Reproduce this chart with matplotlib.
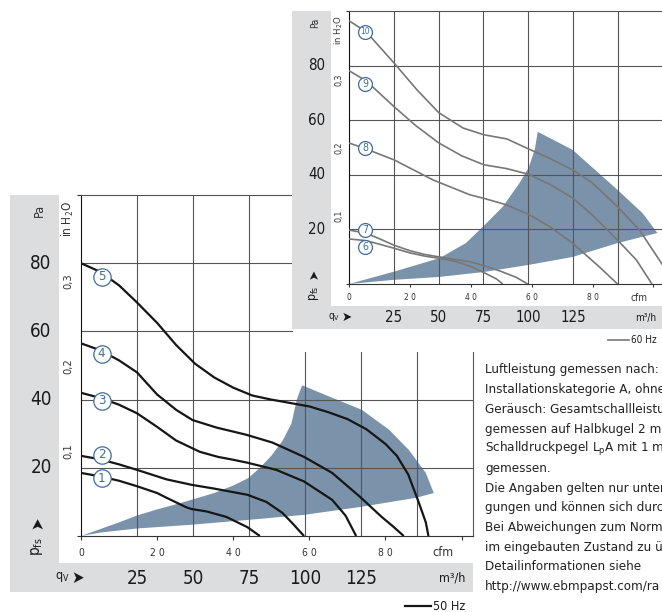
import matplotlib
matplotlib.use('Agg')
import matplotlib.pyplot as plt
from matplotlib import font_manager, transforms
from matplotlib.patches import Rectangle, Polygon

# --- Kennlinien 50 Hz (cfm, Pa) ---
c1_q = [0, 5, 10, 14.7, 20, 22.5, 27.7, 29.1, 33, 38.2, 43.7, 47]
c1_p = [18.5, 17.5, 16.2, 14.6, 12.6, 11.2, 8.4, 7.9, 7.2, 5.6, 2.6, 0]
c2_q = [0, 5, 10, 14.7, 22.5, 29.1, 35, 39.8, 43.7, 48.7, 52.9, 55.5, 58.6]
c2_p = [23.5, 22.5, 21, 19.4, 16.6, 15, 13.9, 12.9, 12.1, 10, 6.8, 3.8, 0]
c3_q = [0, 5, 10, 14.7, 20, 25, 31.2, 36, 39.8, 43.7, 51.3, 58.6, 66, 69.5, 72.3]
c3_p = [42, 40.5, 38.5, 36, 32, 28, 24.7, 23.2, 22.4, 21.5, 19.4, 16, 10.6, 6, 0]
c4_q = [0, 5, 10, 14.7, 20, 25, 29.3, 35.6, 43.4, 50.3, 58.6, 66, 73.3, 79, 82, 84.8]
c4_p = [56.5, 54.5, 51.5, 48, 41.5, 37, 34, 31.8, 29.7, 27.4, 23.2, 18.5, 11.5, 5.6, 2.8, 0]
c5_q = [0, 5, 10, 14.7, 20, 25, 30, 35, 40, 45, 50, 55, 60, 65, 70, 75, 80, 83, 86, 88.7, 90.6, 91.3]
c5_p = [80, 77.5, 73.5, 68.5, 62.5, 56, 50.5, 46.5, 43.5, 41.2, 40, 39, 38, 36.3, 34.3, 31.3, 27, 23.5, 18, 10, 4, 0]

# --- Kennlinien 60 Hz (cfm, Pa) ---
c6_q = [0, 5.6, 10, 14.8, 20, 25, 29.8, 35, 40.3, 45, 48.5, 50.5]
c6_p = [16.5, 15.9, 14.6, 13.1, 11.4, 10.2, 9.4, 8.3, 6.3, 3.8, 1.8, 0]
c7_q = [0, 5.6, 10, 14.8, 20, 25, 29.8, 35, 40.3, 45, 50, 55, 58.7]
c7_p = [19.8, 18.6, 16.6, 14.2, 12.2, 10.8, 9.9, 9.0, 8.0, 6.5, 4.6, 2.4, 0]
c8_q = [0, 5.6, 14.8, 27.5, 39.7, 44.3, 51.8, 59, 66, 73.4, 82.3, 88.2]
c8_p = [51.7, 49.5, 45.5, 38.2, 32.7, 31.4, 29, 25.5, 21, 15, 6.2, 0]
c9_q = [0, 5.6, 14.8, 22, 29.5, 37, 44.3, 51.8, 59, 66, 73.4, 80, 88.2, 94.4, 99.5]
c9_p = [78.2, 74.5, 65, 58, 51.7, 47, 43.7, 42.3, 40.2, 36.5, 31.6, 25.2, 16.1, 8.8, 0]
c10_q = [0, 5.6, 10, 14.8, 22.3, 29.5, 37.4, 44.3, 51.8, 59, 66, 73.6, 80, 88.2, 95.4, 103]
c10_p = [96.5, 92.5, 87, 81, 71.2, 62.8, 57.2, 54.7, 53.2, 49.5, 46, 41.8, 37, 28.3, 19.8, 7]

# Arbeitsbereich (Fläche), 50 Hz und 60 Hz
area50_q = [0, 5, 10, 14.7, 20, 25, 29, 35, 40, 44, 47, 50, 53, 55.3, 56.7, 58.1,
            65, 73.8, 80.9, 86.1, 90.6, 92.7,
            88, 73.3, 58.6, 43.7, 29, 14.7, 5]
area50_p = [0, 2, 4, 6, 7.8, 9.3, 10.6, 12.6, 14.8, 17, 20, 23.5, 28, 33, 40, 44.2,
            41, 37, 31.2, 25.3, 18.5, 12.6,
            11.2, 8.5, 6.2, 4.7, 3.3, 2.2, 1]
area60_q = [0, 14.4, 29.8, 38.4, 43.9, 47.2, 50.5, 56, 59, 61, 62,
            73.4, 88.2, 96.4, 101.3,
            88.2, 73.4, 59, 44.3, 29.8, 14.4]
area60_p = [0, 4.4, 9.5, 15, 20.9, 24.6, 28.3, 37, 42.6, 49.2, 55.8,
            49.2, 34.5, 26, 18.7,
            15, 9.9, 7, 4.4, 2.6, 1.5]

curves50 = [(c1_q, c1_p), (c2_q, c2_p), (c3_q, c3_p), (c4_q, c4_p), (c5_q, c5_p)]
curves60 = [(c6_q, c6_p), (c7_q, c7_p), (c8_q, c8_p), (c9_q, c9_p), (c10_q, c10_p)]
names50 = ['1', '2', '3', '4', '5']
names60 = ['6', '7', '8', '9', '10']
marks50 = [17.0, 23.8, 39.6, 53.4, 76.0]
marks60 = [13.6, 19.8, 49.9, 73.3, 92.4]

pa_ticks = [20, 40, 60, 80]
inh2o_ticks = [0.1, 0.2, 0.3]
cfm_ticks = [0, 20, 40, 60, 80]
m3h_ticks = [25, 50, 75, 100, 125]
m3h_grid = [25, 50, 75, 100, 125, 150]

text_lines = [
    'Luftleistung gemessen nach:',
    'Installationskategorie A, ohne',
    'Geräusch: Gesamtschallleistu',
    'gemessen auf Halbkugel 2 m',
    r'Schalldruckpegel L$_{\mathregular{p}}$A mit 1 m',
    'gemessen.',
    'Die Angaben gelten nur unter',
    'gungen und können sich durc',
    'Bei Abweichungen zum Norm',
    'im eingebauten Zustand zu ül',
    'Detailinformationen siehe',
    'http://www.ebmpapst.com/ra',
]

CFM = 1 / 1.699          # cfm je m³/h
XMAX = 175 * CFM
PAMAX = 100
PA_PER_INH2O = 249.09

W_PX, H_PX = 662, 612
AX_W, AX_H = 392, 341

names = {f.name for f in font_manager.fontManager.ttflist}
if 'Liberation Sans Narrow' in names:
    plt.rcParams['font.family'] = ['Liberation Sans Narrow', 'DejaVu Sans']
else:
    plt.rcParams['font.family'] = ['DejaVu Sans']
    plt.rcParams['font.stretch'] = 'condensed'

GRAY_BAND = '#dcdddf'
AREA = '#7a92aa'
GRID = '#555555'
BLUE = '#3e6d9c'
SYM = ['DejaVu Sans']

fig = plt.figure(figsize=(W_PX / 100, H_PX / 100), dpi=100)


def canvas_axes(z):
    c = fig.add_axes([0, 0, 1, 1], zorder=z)
    c.set_xlim(0, W_PX)
    c.set_ylim(H_PX, 0)
    c.axis('off')
    c.patch.set_alpha(0)
    return c


def panel(cv, ox, oy, s, curves, nums, marks, area_q, area_p, col, lw, hz, z):
    # Rahmen: graue Spalte links und Band unten
    cv.add_patch(Rectangle((ox - 71 * s, oy - AX_H * s), 49 * s, (AX_H + 56) * s,
                           fc=GRAY_BAND, ec='none'))
    cv.add_patch(Rectangle((ox - 71 * s, oy + 27 * s), (71 + AX_W) * s, 29 * s,
                           fc=GRAY_BAND, ec='none'))

    ax = fig.add_axes([ox / W_PX, (H_PX - oy) / H_PX, AX_W * s / W_PX, AX_H * s / H_PX],
                      zorder=z)
    ax.set_xlim(0, XMAX)
    ax.set_ylim(0, PAMAX)
    ax.patch.set_alpha(0)

    ax.add_patch(Polygon(list(zip(area_q, area_p)), closed=True, fc=AREA, ec='none', zorder=1))
    for v in m3h_grid:
        ax.axvline(v * CFM, color=GRID, lw=0.8, zorder=2)
    for v in pa_ticks:
        ax.axhline(v, color=GRID, lw=0.8, zorder=2)
    for (q, p), n, m in zip(curves, nums, marks):
        ax.plot(q, p, color=col, lw=lw, solid_capstyle='butt', zorder=3)
        lx = 5.4
        ax.plot([lx], [m], 'o', ms=12.5 * s, mfc='white', mec=BLUE, mew=0.9, zorder=4)
        ax.text(lx, m, n, color=BLUE, fontsize=(9.5 if len(n) == 1 else 7.5) * s,
                ha='center', va='center', zorder=5)

    for side in ('top', 'right'):
        ax.spines[side].set_color(GRID)
        ax.spines[side].set_linewidth(0.8)
    ax.spines['left'].set_color('#111111')
    ax.spines['bottom'].set_color('#333333')
    ax.set_xticks([t for t in cfm_ticks] + [100])
    ax.set_xticklabels([])
    ax.set_yticks([0, PAMAX])
    ax.set_yticklabels([])
    ax.tick_params(length=3 * s, width=0.8, color='#333333')

    ty = transforms.blended_transform_factory(cv.transData, ax.transData)
    tx = transforms.blended_transform_factory(ax.transData, cv.transData)

    for v in pa_ticks:
        cv.text(ox - 40 * s, v, str(v), transform=ty, fontsize=13.5 * s,
                ha='center', va='center', color='#1a1a1a')
    for v in inh2o_ticks:
        cv.text(ox - 13 * s, v * PA_PER_INH2O, ('%.1f' % v).replace('.', ','),
                transform=ty, fontsize=8 * s, rotation=90, ha='center', va='center',
                color='#333333')
    cv.text(ox - 42 * s, oy - 326 * s, 'Pa', fontsize=9 * s, rotation=90,
            ha='center', va='center', color='#333333')
    cv.text(ox - 13 * s, oy - 317 * s, r'in H$_{\mathregular{2}}$O', fontsize=8.5 * s,
            rotation=90, ha='center', va='center', color='#333333')
    cv.text(ox - 44 * s, oy - 13 * s, '\u27a4', family=SYM, fontsize=12 * s, rotation=90,
            ha='center', va='center', color='#1a1a1a')
    cv.text(ox - 44 * s, oy + 11 * s, r'p$_{\mathregular{fs}}$', fontsize=11 * s,
            rotation=90, ha='center', va='center', color='#1a1a1a')

    for v in cfm_ticks:
        cv.text(v, oy + 17 * s, ' '.join(str(v)), transform=tx, family=['DejaVu Sans'],
                fontsize=7.5 * s, ha='center', va='center', color='#333333')
    cv.text(ox + 362 * s, oy + 17 * s, 'cfm', fontsize=9 * s, ha='center', va='center',
            color='#333333')

    for v in m3h_ticks:
        cv.text(v * CFM, oy + 42 * s, str(v), transform=tx, fontsize=13.5 * s,
                ha='center', va='center', color='#1a1a1a')
    cv.text(ox + 371 * s, oy + 42 * s, 'm³/h', fontsize=9 * s, ha='center', va='center',
            color='#1a1a1a')
    cv.text(ox - 19 * s, oy + 41 * s, r'q$_{\mathregular{V}}$', fontsize=9 * s,
            ha='center', va='center', color='#1a1a1a')
    cv.text(ox - 3 * s, oy + 42 * s, '\u27a4', family=SYM, fontsize=12 * s,
            ha='center', va='center', color='#1a1a1a')

    # Legende
    cv.plot([ox + 324 * s, ox + 350 * s], [oy + 70 * s, oy + 70 * s], color=col, lw=lw)
    cv.text(ox + 352 * s, oy + 70 * s, hz, fontsize=9 * s, ha='left', va='center',
            color='#1a1a1a')
    return ax


# unteres Diagramm (50 Hz)
cv1 = canvas_axes(0)
panel(cv1, 81, 536, 1.0, curves50, names50, marks50, area50_q, area50_p,
      '#161616', 1.6, '50 Hz', 1)

# oberes Diagramm (60 Hz), liegt über dem unteren
cv2 = canvas_axes(2)
cv2.add_patch(Rectangle((293, 0), W_PX - 293, 352, fc='white', ec='none'))
panel(cv2, 349, 284, 0.8, curves60, names60, marks60, area60_q, area60_p,
      '#777777', 1.2, '60 Hz', 3)

# Hinweistext rechts
cv3 = canvas_axes(4)
for i, line in enumerate(text_lines):
    cv3.text(485, 370 + i * 19.7, line, fontsize=9.6, ha='left', va='center',
             color='#222222')

fig.savefig('out.png', dpi=100)
